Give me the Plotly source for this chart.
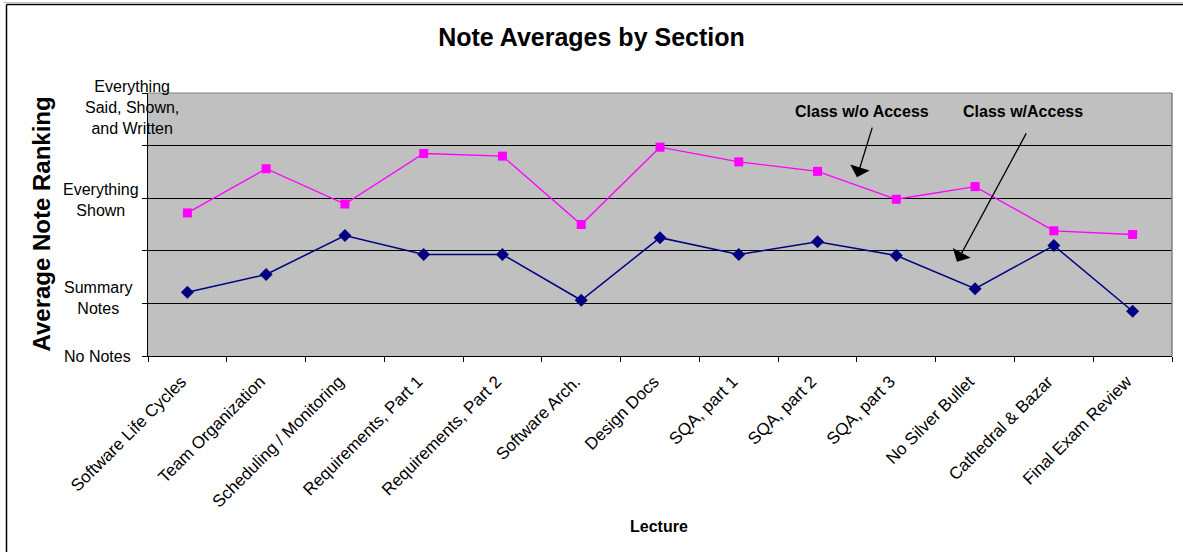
import plotly.graph_objects as go

lectures = [
    "Software Life Cycles", "Team Organization", "Scheduling / Monitoring",
    "Requirements, Part 1", "Requirements, Part 2", "Software Arch.",
    "Design Docs", "SQA, part 1", "SQA, part 2", "SQA, part 3",
    "No Silver Bullet", "Cathedral & Bazar", "Final Exam Review",
]
without_access = [2.72, 3.56, 2.89, 3.85, 3.80, 2.50, 3.97, 3.69, 3.51, 2.98, 3.22, 2.38, 2.31]
with_access = [1.21, 1.55, 2.29, 1.93, 1.93, 1.06, 2.25, 1.93, 2.17, 1.91, 1.28, 2.10, 0.85]

y_tick_vals = [0, 1, 3, 5]
y_tick_text = ["No Notes", "Summary<br>Notes", "Everything<br>Shown",
               "Everything<br>Said, Shown,<br>and Written"]

W, H = 1183, 552
L, R, T, B = 148, 11, 93, 196
PW, PH = W - L - R, H - T - B

def px_x(p):
    return (p - L) / PW

def px_y(p):
    return (H - B - p) / PH

FONT = "Liberation Sans, Arial, sans-serif"

fig = go.Figure()
fig.add_trace(go.Scatter(
    x=lectures, y=without_access, mode="lines+markers", name="Class w/o Access",
    line=dict(color="#FF00FF", width=1.3),
    marker=dict(symbol="square", size=9, color="#FF00FF"),
))
fig.add_trace(go.Scatter(
    x=lectures, y=with_access, mode="lines+markers", name="Class w/Access",
    line=dict(color="#000080", width=1.5),
    marker=dict(symbol="diamond", size=10, color="#000080"),
))

annotations = []
# y tick labels (centered multi-line)
ylab_shift = [0, 5, -2, -14]
ylab_x = [97, 98, 101, 132]
for v, t, s, xp in zip(y_tick_vals, y_tick_text, ylab_shift, ylab_x):
    annotations.append(dict(
        x=px_x(xp), xref="paper", y=v, yref="y", yshift=s,
        text=t, showarrow=False, align="center", xanchor="center", yanchor="middle",
        font=dict(family=FONT, size=16, color="black"),
    ))

# axis titles
annotations.append(dict(
    x=px_x(41), xref="paper", y=0.5, yref="paper", text="<b>Average Note Ranking</b>",
    textangle=-90, showarrow=False, xanchor="center", yanchor="middle",
    font=dict(family=FONT, size=24, color="black"),
))
annotations.append(dict(
    x=px_x(659), xref="paper", y=px_y(526), yref="paper", text="<b>Lecture</b>",
    showarrow=False, xanchor="center", yanchor="middle",
    font=dict(family=FONT, size=16, color="black"),
))

# series labels with arrows
annotations.append(dict(
    x=8.56, y=4.64, xref="x", yref="y", text="<b>Class w/o Access</b>",
    showarrow=False, font=dict(family=FONT, size=16, color="black"),
))
annotations.append(dict(
    x=10.61, y=4.64, xref="x", yref="y", text="<b>Class w/Access</b>",
    showarrow=False, font=dict(family=FONT, size=16, color="black"),
))
annotations.append(dict(
    x=8.50, y=3.40, xref="x", yref="y", ax=8.70, ay=4.37, axref="x", ayref="y",
    text="", showarrow=True, arrowhead=1, arrowsize=2.6, arrowwidth=1.3, arrowcolor="black",
))
annotations.append(dict(
    x=9.77, y=1.79, xref="x", yref="y", ax=10.66, ay=4.26, axref="x", ayref="y",
    text="", showarrow=True, arrowhead=1, arrowsize=2.6, arrowwidth=1.3, arrowcolor="black",
))

shapes = [
    # plot area border top & right (grey)
    dict(type="line", xref="paper", yref="paper", x0=0, x1=1, y0=1, y1=1,
         line=dict(color="#808080", width=1)),
    dict(type="line", xref="paper", yref="paper", x0=1, x1=1, y0=0, y1=1,
         line=dict(color="#808080", width=1.5)),
    # outer chart border (top & left)
    dict(type="line", xref="paper", yref="paper", x0=px_x(3), x1=px_x(1183), y0=px_y(2.5), y1=px_y(2.5),
         line=dict(color="#C8C8C8", width=1)),
    dict(type="line", xref="paper", yref="paper", x0=px_x(6.5), x1=px_x(1183), y0=px_y(4.5), y1=px_y(4.5),
         line=dict(color="black", width=1.5)),
    dict(type="line", xref="paper", yref="paper", x0=px_x(6.5), x1=px_x(6.5), y0=px_y(4.5), y1=px_y(552),
         line=dict(color="black", width=1.5)),
]

fig.update_layout(
    width=W, height=H,
    margin=dict(l=L, r=R, t=T, b=B, pad=0),
    paper_bgcolor="white", plot_bgcolor="#C0C0C0",
    showlegend=False,
    title=dict(text="<b>Note Averages by Section</b>", x=0.5, xref="container", xanchor="center",
               y=1 - 37 / H, yref="container", yanchor="middle",
               font=dict(family=FONT, size=25, color="black")),
    font=dict(family=FONT, color="black"),
    annotations=annotations,
    shapes=shapes,
)
fig.update_xaxes(
    type="category", range=[-0.5, 12.5], tickangle=-45,
    tickfont=dict(family=FONT, size=17, color="black"),
    ticks="outside", tickson="boundaries", ticklen=5, tickcolor="black",
    ticklabelstandoff=8, ticklabelshift=-6,
    showline=True, linecolor="black", linewidth=1, showgrid=False, zeroline=False,
)
fig.update_yaxes(
    range=[0, 5], tickvals=[0, 1, 2, 3, 4, 5], showticklabels=False,
    ticks="outside", ticklen=5, tickcolor="black",
    showline=True, linecolor="black", linewidth=1,
    showgrid=True, gridcolor="black", gridwidth=1, zeroline=False,
)

fig.write_html("out.html")
